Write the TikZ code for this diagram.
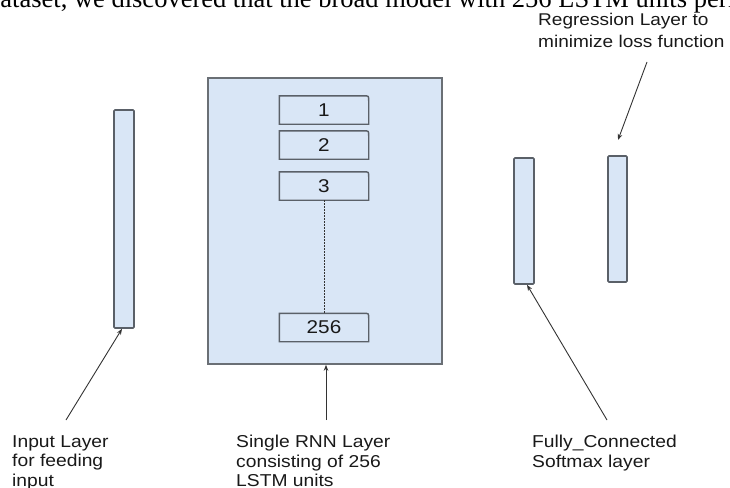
\documentclass[tikz,border=0pt]{standalone}
\usepackage{fontspec}
\setmainfont{Liberation Sans}[FakeStretch=1.12]
\newfontfamily\serifface{Liberation Serif}
\usetikzlibrary{arrows.meta}
\definecolor{barfill}{HTML}{D9E6F6}
\definecolor{barline}{HTML}{5A6068}
\definecolor{boxline}{HTML}{6A6F75}
\definecolor{arrowcol}{HTML}{333333}
\tikzset{
  bar/.style={draw=barline, fill=barfill, line width=1.6pt, rounded corners=1pt, inner sep=0pt},
  bigbox/.style={draw=boxline, fill=barfill, line width=1.6pt, inner sep=0pt},
  unitbox/.style={inner sep=0pt, minimum width=89pt, minimum height=28pt, font=\fontsize{18.5}{20}\selectfont, text=black!90},
  unitline/.style={draw=barline, fill=barfill, line width=1.4pt},
  lab/.style={anchor=north west, inner sep=0pt, align=left, text=black!90, font=\fontsize{17.2}{19.5}\selectfont},
  pointer/.style={draw=arrowcol, line width=0.9pt, -{Stealth[length=6pt,width=4.5pt]}},
}
\begin{document}
\begin{tikzpicture}[x=1pt,y=-1pt]
\useasboundingbox (0,0) rectangle (730,487);
\clip (0,0) rectangle (730,487);
% cut-off line of body text above the figure
\node[anchor=base west, inner sep=0pt, font=\serifface\fontsize{26.5}{30}\selectfont] (toptext) at (-13,7.5) {dataset, we discovered that the broad model with 256 LSTM units perf};
% bars
\node[bar, minimum width=20pt, minimum height=218pt] (inbar) at (124,219) {};
\node[bar, minimum width=20pt, minimum height=126pt] (fcbar) at (524,221) {};
\node[bar, minimum width=19pt, minimum height=126pt] (smbar) at (617.5,219) {};
% big RNN box
\node[bigbox, minimum width=234pt, minimum height=286pt] (rnn) at (325,221) {};
% LSTM units
\node[unitbox] (u1) at (324,110) {};
\node[unitbox] (u2) at (324,145) {};
\node[unitbox] (u3) at (324,186) {};
\node[unitbox] (u256) at (324,327.5) {};
\foreach \u in {u1,u2,u3,u256}{
  \draw[unitline] (\u.south west) -- (\u.north west) -- ([xshift=-5pt]\u.north east) .. controls (\u.north east) .. ([yshift=-5pt]\u.north east) -- (\u.south east) -- cycle;
}
\node[unitbox] at (u1) {1};
\node[unitbox] at (u2) {2};
\node[unitbox] at (u3) {3};
\node[unitbox] at (u256) {256};
\draw[draw=arrowcol, line width=1pt, dash pattern=on 1.5pt off 1.5pt] (u3.south) -- (u256.north);
% labels
\node[lab] (inlab) at (12,435) {Input Layer\\for feeding\\input};
\node[lab] (rnnlab) at (236,435) {Single RNN Layer\\consisting of 256\\LSTM units};
\node[lab] (fclab) at (532,435) {Fully\_Connected\\Softmax layer};
\node[lab, font=\fontsize{17}{22}\selectfont] (reglab) at (538,13) {Regression Layer to\\minimize loss function};
% arrow tails
\coordinate (intail) at (66,420);
\coordinate (rnntail) at (326,420);
\coordinate (fctail) at (607,420);
\coordinate (regtail) at (647,62);
\coordinate (regtip) at (618,140);
\draw[pointer] (intail) -- ([xshift=-2pt]inbar.south);
\draw[pointer] (rnntail) -- ([xshift=1pt]rnn.south);
\draw[pointer] (fctail) -- ([xshift=3pt]fcbar.south);
\draw[pointer] (regtail) -- (regtip);
\end{tikzpicture}
\end{document}
